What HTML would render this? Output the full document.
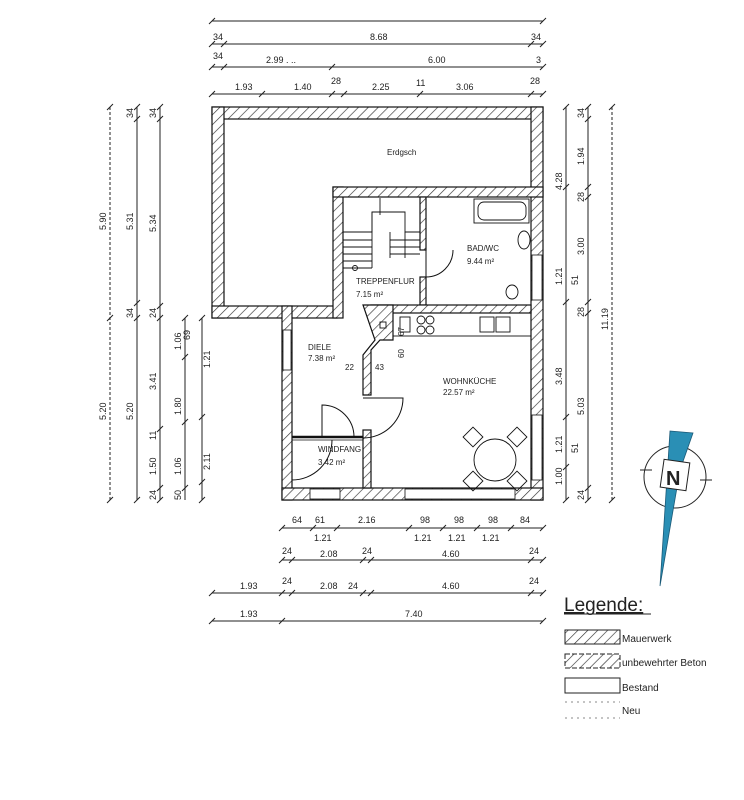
<!DOCTYPE html>
<html><head><meta charset="utf-8"><style>
body{margin:0;background:#fff}
svg{display:block}
text{font-family:"Liberation Sans",sans-serif;fill:#222}
</style></head><body>
<svg width="744" height="800" viewBox="0 0 744 800" xmlns="http://www.w3.org/2000/svg">
<defs>
<pattern id="h" patternUnits="userSpaceOnUse" width="7" height="7" patternTransform="rotate(45)">
<rect width="7" height="7" fill="#fff"/><line x1="0" y1="0" x2="0" y2="7" stroke="#333" stroke-width="1.3"/>
</pattern>
</defs>
<rect width="744" height="800" fill="#fff"/>
<g fill="url(#h)" stroke="#111" stroke-width="1.2">
<rect x="212" y="107" width="331" height="12"/>
<rect x="212" y="107" width="12" height="211"/>
<rect x="531" y="107" width="12" height="393"/>
<rect x="212" y="306" width="125" height="12"/>
<rect x="333" y="187" width="10" height="131"/>
<rect x="333" y="187" width="210" height="10"/>
<rect x="282" y="306" width="10" height="194"/>
<rect x="282" y="488" width="261" height="12"/>
<rect x="420" y="197" width="6" height="53"/>
<rect x="420" y="277" width="6" height="28"/>
<rect x="371" y="305" width="160" height="8"/>
<polygon points="363,305 393,305 393,340 380,340 371,350 371,395 363,395 363,355 375,340"/>
<rect x="363" y="430" width="8" height="58"/>
</g>
<!-- windows -->
<g fill="#fff" stroke="#111" stroke-width="0.8">
<rect x="283" y="330" width="8" height="40"/>
<rect x="532" y="255" width="10" height="45"/>
<rect x="532" y="415" width="10" height="65"/>
<rect x="310" y="489" width="30" height="10"/>
<rect x="405" y="489" width="110" height="10"/>
</g>
<line x1="292" y1="437" x2="363" y2="437" stroke="#111" stroke-width="2.5"/>
<line x1="292" y1="440" x2="363" y2="440" stroke="#111" stroke-width="0.8"/>
<!-- doors -->
<g fill="none" stroke="#111" stroke-width="1">
<path d="M426 277 L426 250 M426 277 A27 27 0 0 0 453 250"/>
<path d="M322 437 L322 405 A32 32 0 0 1 354 437"/>
<path d="M363 398 L403 398 A40 40 0 0 1 363 438"/>
<path d="M292 480 A40 40 0 0 0 332 440"/>
</g>
<!-- stairs -->
<g fill="none" stroke="#111" stroke-width="0.9">
<polyline points="343,232 372,232 372,212 405,212 405,232 420,232"/>
<line x1="372" y1="212" x2="372" y2="268"/>
<line x1="405" y1="232" x2="405" y2="258"/>
<line x1="343" y1="268" x2="372" y2="268"/>
<line x1="343" y1="240" x2="372" y2="240"/><line x1="343" y1="247" x2="372" y2="247"/><line x1="343" y1="254" x2="372" y2="254"/><line x1="343" y1="261" x2="372" y2="261"/>
<line x1="390" y1="240" x2="420" y2="240"/><line x1="390" y1="247" x2="420" y2="247"/><line x1="390" y1="254" x2="420" y2="254"/>
<line x1="390" y1="232" x2="390" y2="258"/>
<line x1="380" y1="198" x2="380" y2="215"/>
<circle cx="355" cy="268" r="2.5"/>
<!-- bath -->
<rect x="474" y="199" width="55" height="24"/>
<rect x="478" y="202" width="48" height="18" rx="6"/>
<ellipse cx="524" cy="240" rx="6" ry="9"/>
<ellipse cx="512" cy="292" rx="6" ry="7"/>
<!-- kitchen -->
<rect x="393" y="313" width="138" height="23"/>
<rect x="400" y="317" width="10" height="15"/>
<circle cx="421" cy="320" r="4"/><circle cx="430" cy="320" r="4"/><circle cx="421" cy="330" r="4"/><circle cx="430" cy="330" r="4"/>
<rect x="480" y="317" width="14" height="15"/><rect x="496" y="317" width="14" height="15"/>
<rect x="380" y="322" width="6" height="6"/>
<!-- table -->
<circle cx="495" cy="460" r="21"/>
<rect x="466" y="430" width="14" height="14" transform="rotate(45 473 437)"/>
<rect x="510" y="430" width="14" height="14" transform="rotate(45 517 437)"/>
<rect x="466" y="474" width="14" height="14" transform="rotate(45 473 481)"/>
<rect x="510" y="474" width="14" height="14" transform="rotate(45 517 481)"/>
</g>
<g font-size="8">
<text x="387" y="155">Erdgsch</text>
<text x="467" y="251">BAD/WC</text><text x="467" y="264">9.44 m²</text>
<text x="356" y="284">TREPPENFLUR</text><text x="356" y="297">7.15 m²</text>
<text x="308" y="350">DIELE</text><text x="308" y="361">7.38 m²</text>
<text x="443" y="384">WOHNKÜCHE</text><text x="443" y="395">22.57 m²</text>
<text x="318" y="452">WINDFANG</text><text x="318" y="465">3.42 m²</text>
<text x="345" y="370">22</text><text x="375" y="370">43</text>
<text transform="translate(404,336) rotate(-90)">67</text>
<text transform="translate(404,358) rotate(-90)">60</text>
</g>
<!-- dimension lines -->
<g stroke="#222" stroke-width="1" fill="none">
<line x1="212" y1="21" x2="543" y2="21"/>
<line x1="212" y1="44" x2="543" y2="44"/>
<line x1="212" y1="67" x2="543" y2="67"/>
<line x1="212" y1="94" x2="543" y2="94"/>
<line x1="282" y1="528" x2="543" y2="528"/>
<line x1="282" y1="560" x2="543" y2="560"/>
<line x1="212" y1="593" x2="543" y2="593"/>
<line x1="212" y1="621" x2="543" y2="621"/>
<line x1="110" y1="107" x2="110" y2="500" stroke-dasharray="3,2"/>
<line x1="137" y1="107" x2="137" y2="500"/>
<line x1="160" y1="107" x2="160" y2="500"/>
<line x1="185" y1="318" x2="185" y2="500"/>
<line x1="202" y1="318" x2="202" y2="500"/>
<line x1="566" y1="107" x2="566" y2="500"/>
<line x1="588" y1="107" x2="588" y2="500"/>
<line x1="612" y1="107" x2="612" y2="500" stroke-dasharray="3,2"/>
</g>
<g stroke="#222" stroke-width="1">
<path d="M209 24l6-6M540 24l6-6M209 47l6-6M221 47l6-6M528 47l6-6M540 47l6-6M209 70l6-6M221 70l6-6M329 70l6-6M540 70l6-6M209 97l6-6M259 97l6-6M329 97l6-6M341 97l6-6M417 97l6-6M528 97l6-6M540 97l6-6"/>
<path d="M279 531l6-6M310 531l6-6M334 531l6-6M406 531l6-6M440 531l6-6M474 531l6-6M508 531l6-6M540 531l6-6M279 563l6-6M289 563l6-6M360 563l6-6M368 563l6-6M528 563l6-6M540 563l6-6M209 596l6-6M279 596l6-6M289 596l6-6M360 596l6-6M368 596l6-6M528 596l6-6M540 596l6-6M209 624l6-6M279 624l6-6M540 624l6-6"/>
<path d="M107 110l6-6M107 321l6-6M107 503l6-6M134 110l6-6M134 122l6-6M134 306l6-6M134 321l6-6M134 503l6-6M157 110l6-6M157 122l6-6M157 309l6-6M157 321l6-6M157 432l6-6M157 491l6-6M157 503l6-6M182 321l6-6M182 360l6-6M182 425l6-6M182 491l6-6M199 321l6-6M199 420l6-6M199 485l6-6M199 503l6-6"/>
<path d="M563 110l6-6M563 190l6-6M563 305l6-6M563 420l6-6M563 470l6-6M563 503l6-6M585 110l6-6M585 122l6-6M585 190l6-6M585 200l6-6M585 305l6-6M585 316l6-6M585 491l6-6M585 503l6-6M609 110l6-6M609 503l6-6"/>
</g>
<g font-size="9">
<text x="370" y="40">8.68</text><text x="213" y="40">34</text><text x="531" y="40">34</text>
<text x="213" y="59">34</text><text x="266" y="63">2.99 . ..</text><text x="428" y="63">6.00</text><text x="536" y="63">3</text>
<text x="235" y="90">1.93</text><text x="294" y="90">1.40</text><text x="331" y="84">28</text><text x="372" y="90">2.25</text><text x="416" y="86">11</text><text x="456" y="90">3.06</text><text x="530" y="84">28</text>
<text x="292" y="523">64</text><text x="315" y="523">61</text><text x="358" y="523">2.16</text><text x="420" y="523">98</text><text x="454" y="523">98</text><text x="488" y="523">98</text><text x="520" y="523">84</text>
<text x="314" y="541">1.21</text><text x="414" y="541">1.21</text><text x="448" y="541">1.21</text><text x="482" y="541">1.21</text>
<text x="282" y="554">24</text><text x="320" y="557">2.08</text><text x="362" y="554">24</text><text x="442" y="557">4.60</text><text x="529" y="554">24</text>
<text x="240" y="589">1.93</text><text x="282" y="584">24</text><text x="320" y="589">2.08</text><text x="348" y="589">24</text><text x="442" y="589">4.60</text><text x="529" y="584">24</text>
<text x="240" y="617">1.93</text><text x="405" y="617">7.40</text>
</g>
<g font-size="9">
<text transform="translate(106,230) rotate(-90)">5.90</text>
<text transform="translate(106,420) rotate(-90)">5.20</text>
<text transform="translate(133,230) rotate(-90)">5.31</text>
<text transform="translate(133,420) rotate(-90)">5.20</text>
<text transform="translate(133,118) rotate(-90)">34</text>
<text transform="translate(133,318) rotate(-90)">34</text>
<text transform="translate(156,232) rotate(-90)">5.34</text>
<text transform="translate(156,118) rotate(-90)">34</text>
<text transform="translate(156,318) rotate(-90)">24</text>
<text transform="translate(156,390) rotate(-90)">3.41</text>
<text transform="translate(156,440) rotate(-90)">11</text>
<text transform="translate(156,475) rotate(-90)">1.50</text>
<text transform="translate(156,500) rotate(-90)">24</text>
<text transform="translate(181,350) rotate(-90)">1.06</text>
<text transform="translate(181,415) rotate(-90)">1.80</text>
<text transform="translate(181,475) rotate(-90)">1.06</text>
<text transform="translate(181,500) rotate(-90)">50</text>
<text transform="translate(190,340) rotate(-90)">69</text>
<text transform="translate(210,368) rotate(-90)">1.21</text>
<text transform="translate(210,470) rotate(-90)">2.11</text>
<text transform="translate(562,190) rotate(-90)">4.28</text>
<text transform="translate(562,285) rotate(-90)">1.21</text>
<text transform="translate(562,385) rotate(-90)">3.48</text>
<text transform="translate(562,453) rotate(-90)">1.21</text>
<text transform="translate(562,485) rotate(-90)">1.00</text>
<text transform="translate(584,118) rotate(-90)">34</text>
<text transform="translate(584,165) rotate(-90)">1.94</text>
<text transform="translate(584,202) rotate(-90)">28</text>
<text transform="translate(584,255) rotate(-90)">3.00</text>
<text transform="translate(584,317) rotate(-90)">28</text>
<text transform="translate(584,415) rotate(-90)">5.03</text>
<text transform="translate(584,500) rotate(-90)">24</text>
<text transform="translate(578,285) rotate(-90)">51</text>
<text transform="translate(578,453) rotate(-90)">51</text>
<text transform="translate(608,330) rotate(-90)">11.19</text>
</g>
<!-- compass -->
<circle cx="675" cy="477" r="31" fill="none" stroke="#222" stroke-width="1"/>
<line x1="640" y1="470" x2="652" y2="470" stroke="#222"/><line x1="700" y1="480" x2="712" y2="480" stroke="#222"/>
<polygon points="670,431 693,433 680,470 660,586" fill="#2a8fb5" stroke="#1b5a78" stroke-width="0.8"/>
<rect x="662" y="461" width="26" height="28" fill="#fff" stroke="#222" transform="rotate(8 675 475)"/>
<text x="666" y="485" font-size="20" font-weight="bold" fill="#222">N</text>
<!-- legend -->
<text x="564" y="611" font-size="19" style="text-decoration:underline">Legende:</text>
<line x1="564" y1="614" x2="651" y2="614" stroke="#222"/>
<rect x="565" y="630" width="55" height="14" fill="url(#h)" stroke="#222"/>
<text x="622" y="642" font-size="10">Mauerwerk</text>
<rect x="565" y="654" width="55" height="14" fill="url(#h)" stroke="#222" stroke-dasharray="5,2"/>
<text x="622" y="666" font-size="10">unbewehrter Beton</text>
<rect x="565" y="678" width="55" height="15" fill="#fff" stroke="#222"/>
<text x="622" y="691" font-size="10">Bestand</text>
<line x1="565" y1="702" x2="620" y2="702" stroke="#888" stroke-dasharray="2,4"/>
<line x1="565" y1="718" x2="620" y2="718" stroke="#888" stroke-dasharray="2,4"/>
<text x="622" y="714" font-size="10">Neu</text>
</svg>
</body></html>
